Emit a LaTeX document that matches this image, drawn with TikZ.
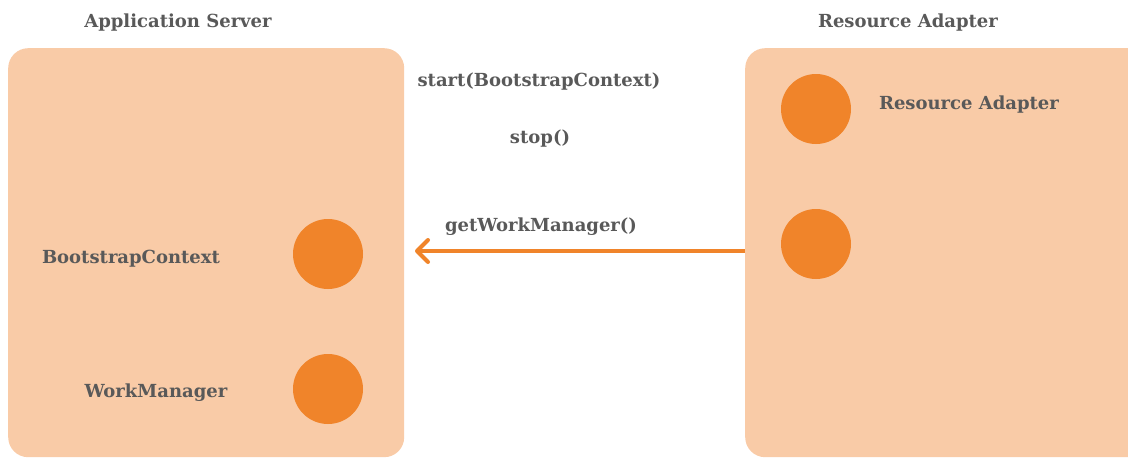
\documentclass[tikz,border=0pt]{standalone}
\usepackage{fontspec}
\setmainfont{DejaVu Serif}
\usetikzlibrary{arrows.meta}
\definecolor{boxfill}{HTML}{F9CBA7}
\definecolor{dotfill}{HTML}{F0842A}
\definecolor{lblgray}{HTML}{595959}
\begin{document}
\begin{tikzpicture}[x=1pt, y=-1pt]
\tikzset{ctrbox/.style={fill=boxfill, rounded corners=20pt, inner sep=0pt, anchor=north west}}
\tikzset{compdot/.style={shape=circle, minimum size=70pt, inner sep=0pt, fill=dotfill}}
\tikzset{lbl/.style={text=lblgray, font=\bfseries\fontsize{18}{21}\selectfont, anchor=base, inner sep=0pt}}
\tikzset{callarrow/.style={draw=dotfill, line width=4pt, -{Straight Barb[round, length=11pt, width=22pt]}}}
\useasboundingbox (0,0) rectangle (1128,458);
\clip (0,0) rectangle (1128,458);
% containers
\node (asbox) [ctrbox, minimum width=396pt, minimum height=409pt] at (8, 48) {};
\node (rabox) [ctrbox, minimum width=420pt, minimum height=409pt] at (745, 48) {};
\node (astitle) [lbl] at (178, 27) {Application Server};
\node (ratitle) [lbl] at (908, 27) {Resource Adapter};
% components
\node (bsdot)  [compdot] at (328, 254) {};
\node (wmdot)  [compdot] at (328, 389) {};
\node (radot)  [compdot] at (816, 109) {};
\node (ra2dot) [compdot] at (816, 244) {};
\node (bslbl) [lbl] at (131, 263) {BootstrapContext};
\node (wmlbl) [lbl] at (156, 397) {WorkManager};
\node (ralbl) [lbl] at (969, 109) {Resource Adapter};
% calls
\node (startlbl) [lbl] at (539, 86)  {start(BootstrapContext)};
\node (stoplbl)  [lbl] at (540, 143) {stop()};
\node (getlbl)   [lbl] at (541, 231) {getWorkManager()};
\coordinate (calltail) at (745, 251);
\coordinate (callhead) at (415, 251);
\draw[callarrow] (calltail) -- (callhead);
\end{tikzpicture}
\end{document}
